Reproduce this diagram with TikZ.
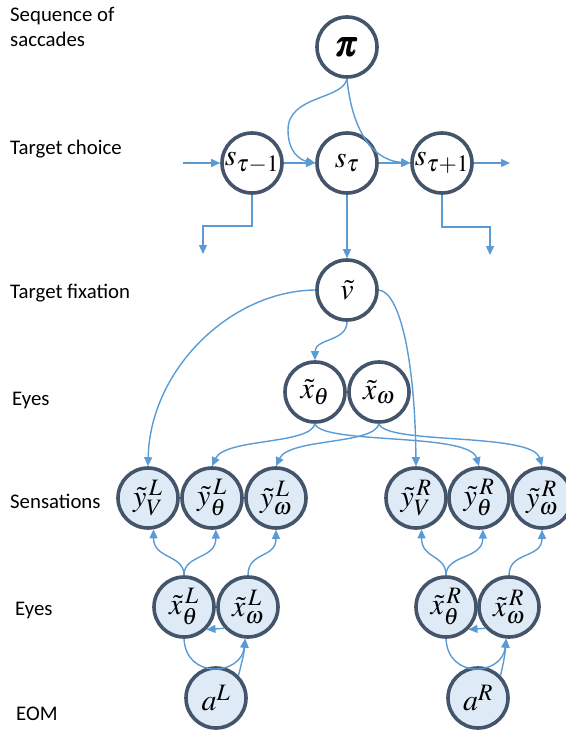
\documentclass[tikz,border=0pt]{standalone}
\usepackage{mathptmx}
\usepackage{amsmath}
\usepackage[no-math]{fontspec}
\setmainfont{Carlito}
\usetikzlibrary{arrows.meta}
\definecolor{ringcol}{HTML}{44546A}
\definecolor{linkcol}{HTML}{5B9BD5}
\definecolor{lightfill}{HTML}{DEEBF7}
% larger scripts inside the circles
\DeclareMathSizes{30}{30}{23.5}{17}
\DeclareMathSizes{36}{36}{26}{20}

\begin{document}
\begin{tikzpicture}[x=1pt,y=-1pt,
  var/.style={circle,draw=ringcol,line width=3.6pt,minimum size=60pt,
    inner sep=0pt,fill=white,font=\fontsize{30}{36}\selectfont},
  obs/.style={var,fill=lightfill},
  link/.style={draw=linkcol,line width=1.4pt,-{Triangle[length=9pt,width=8pt]}},
  lab/.style={anchor=base west,font=\fontsize{20.8}{25}\selectfont,inner sep=0pt}
]
\useasboundingbox (0,0) rectangle (565,736);

% level labels
\node[lab] (l1)  at (10,21)  {Sequence of};
\node[lab] (l1b) at (10,46)  {saccades};
\node[lab] (l2)  at (10,154) {Target choice};
\node[lab] (l3)  at (10,298) {Target fixation};
\node[lab] (l4)  at (12,405) {Eyes};
\node[lab] (l5)  at (10,508) {Sensations};
\node[lab] (l6)  at (15,615) {Eyes};
\node[lab] (l7)  at (16,720) {EOM};

% hidden states
\node[var,font=\fontsize{36}{40}\selectfont] (pi) at (347,47) {$\pmb{\pi}$};
\node[var] (sm) at (252,163) {$s_{\tau{-}1}$};
\node[var] (st) at (347,163) {$s_{\tau}$};
\node[var] (sp) at (442,163) {$s_{\tau{+}1}$};
\node[var] (v)  at (347,290) {$\tilde{v}$};
\node[var] (xt) at (315,392) {$\tilde{x}_{\theta}$};
\node[var] (xw) at (379,392) {$\tilde{x}_{\omega}$};

% sensations
\node[obs] (yVL) at (148,498) {$\tilde{y}_{V}^{\,L}$};
\node[obs] (yTL) at (212,498) {$\tilde{y}_{\theta}^{\,L}$};
\node[obs] (yWL) at (276,498) {$\tilde{y}_{\omega}^{\,L}$};
\node[obs] (yVR) at (416,498) {$\tilde{y}_{V}^{\,R}$};
\node[obs] (yTR) at (479,498) {$\tilde{y}_{\theta}^{\,R}$};
\node[obs] (yWR) at (542,498) {$\tilde{y}_{\omega}^{\,R}$};

% eyes and muscles
\node[obs] (xTL) at (184,607) {$\tilde{x}_{\theta}^{\,L}$};
\node[obs] (xWL) at (248,607) {$\tilde{x}_{\omega}^{\,L}$};
\node[obs] (aL)  at (216,698) {$a^{L}$};
\node[obs] (xTR) at (446,607) {$\tilde{x}_{\theta}^{\,R}$};
\node[obs] (xWR) at (509,607) {$\tilde{x}_{\omega}^{\,R}$};
\node[obs] (aR)  at (478,698) {$a^{R}$};

% free ends
\coordinate (cin)   at (183,163);
\coordinate (cout)  at (510,163);
\coordinate (dropL) at (203,254);
\coordinate (dropR) at (490,255);

% target chain
\draw[link] (cin) -- (sm);
\draw[link] (sm) -- (st);
\draw[link] (st) -- (sp);
\draw[link] (sp) -- (cout);
\draw[link] (sm.south) -- ++(0,31) -| (dropL);
\draw[link] (sp.south) -- ++(0,32) -| (dropR);
\draw[link] (st) -- (v);
\draw[link] (pi.south) .. controls (343,100) and (288,95) .. (288,130)
                       .. controls (288,152) and (300,160) .. (st.west);
\draw[link] (pi.south) .. controls (351,122) and (368,160) .. (sp.west);

% fixation to eyes and sensations
\draw[link] (v.south) .. controls +(0,20) and +(0,-22) .. (xt.north);
\draw[link] (v.west) .. controls (230,291) and (150,370) .. (yVL.north);
\draw[link] (v.east) .. controls (400,292) and (415,360) .. (yVR.north);
\draw[link] (xt.south) .. controls +(-5,21) and +(13,-28) .. (yTL.north);
\draw[link] (xw.south) .. controls +(-5,21) and +(13,-28) .. (yWL.north);
\draw[link] (xt.south) .. controls +(7,21) and +(-10,-34) .. (yTR.north);
\draw[link] (xw.south) .. controls +(7,21) and +(-10,-34) .. (yWR.north);

% left eye
\draw[link] (xTL.north) .. controls +(0,-21) and +(0,30) .. (yVL.-80);
\draw[link] (xTL.north) .. controls +(0,-21) and +(0,30) .. (yTL.-83);
\draw[link] (xWL.north) .. controls +(0,-24) and +(0,29) .. (yWL.south);
\draw[link] (xWL.-138) -- (xTL.-45);
\draw[link] (xTL.south) .. controls +(2,41) and +(-4,37) .. (xWL.-95);
\draw[link] (aL.45) .. controls +(3,-12) and +(-1,14) .. (xWL.-95);

% right eye
\draw[link] (xTR.north) .. controls +(0,-21) and +(0,30) .. (yVR.-80);
\draw[link] (xTR.north) .. controls +(0,-21) and +(0,30) .. (yTR.-83);
\draw[link] (xWR.north) .. controls +(0,-24) and +(0,29) .. (yWR.south);
\draw[link] (xWR.-138) -- (xTR.-45);
\draw[link] (xTR.south) .. controls +(2,41) and +(-4,37) .. (xWR.-95);
\draw[link] (aR.45) .. controls +(3,-12) and +(-1,14) .. (xWR.-95);
\end{tikzpicture}
\end{document}
